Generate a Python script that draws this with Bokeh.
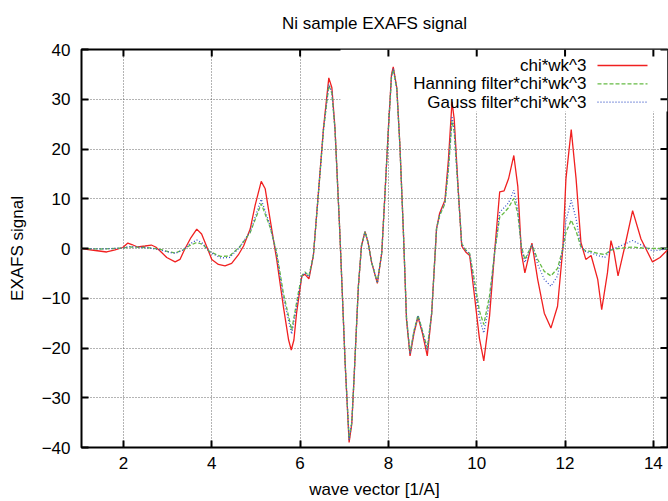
import math
from bokeh.plotting import figure
from bokeh.models import Range1d, FixedTicker, BoxAnnotation, Label, LinearAxis
from bokeh.embed import file_html
from bokeh.resources import INLINE

# ---- data ----
k_chi = [1.05, 1.28, 1.62, 1.81, 1.985, 2.10, 2.19, 2.32, 2.49, 2.63, 2.73, 2.83, 2.98, 3.17,
         3.28, 3.39, 3.53, 3.66, 3.77, 3.88, 4.0, 4.15, 4.30, 4.45, 4.60, 4.72, 4.87, 4.98,
         5.12, 5.21, 5.32, 5.47, 5.62, 5.74, 5.80, 5.86, 5.92, 6.04, 6.11, 6.20, 6.30, 6.41,
         6.53, 6.65, 6.72, 6.79, 6.90, 7.02, 7.11, 7.17, 7.22, 7.32, 7.39, 7.47, 7.54, 7.62,
         7.75, 7.85, 7.92, 8.0, 8.07, 8.11, 8.19, 8.26, 8.34, 8.41, 8.49, 8.58, 8.67, 8.77,
         8.88, 8.98, 9.09, 9.16, 9.28, 9.36, 9.44, 9.49, 9.58, 9.66, 9.75, 9.84, 9.95, 10.06,
         10.16, 10.29, 10.41, 10.52, 10.62, 10.72, 10.84, 10.93, 10.97, 11.01, 11.09, 11.25,
         11.38, 11.53, 11.68, 11.83, 11.95, 12.02, 12.14, 12.25, 12.36, 12.47, 12.59, 12.74,
         12.83, 12.96, 13.04, 13.11, 13.2, 13.34, 13.53, 13.72, 13.98, 14.15, 14.32]
chi = [0.0, -0.3, -0.7, -0.3, 0.2, 1.1, 0.8, 0.3, 0.5, 0.7, 0.3, -0.5, -1.8, -2.7,
       -2.2, -0.1, 2.2, 3.9, 2.9, 0.5, -2.2, -3.2, -3.5, -3.0, -1.3, 0.5, 3.9, 8.6,
       13.5, 12.0, 5.9, -2.2, -11.6, -18.4, -20.4, -18.4, -13.0, -5.5, -5.2, -6.1, -1.5, 10.7,
       24.2, 34.3, 32.3, 24.2, 3.2, -23.0, -39.0, -35.3, -26.5, -7.6, 0.5, 3.4, 1.2, -2.8,
       -7.0, -0.8, 10.7, 24.2, 35.0, 36.5, 32.3, 20.8, 3.2, -14.3, -21.6, -17.0, -13.8, -17.0,
       -21.6, -13.0, 4.0, 7.1, 9.7, 18.0, 29.5, 26.0, 12.0, 0.5, -0.7, -1.4, -9.6, -18.0,
       -22.6, -13.6, -0.1, 11.4, 11.6, 14.0, 18.7, 12.5, 6.0, -0.8, -4.9, 1.1,
       -6.2, -13.0, -16.0, -11.6, 0.0, 14.0, 23.9, 14.0, 1.2, -2.2, -1.4, -6.2,
       -12.3, -4.9, 1.6, -0.8, -5.5, -0.1, 7.6, 1.9, -2.7, -1.8, -0.3]

k_han = [1.05, 1.5, 1.985, 2.15, 2.5, 2.8, 3.0, 3.17, 3.35, 3.5, 3.66, 3.8, 3.95, 4.2, 4.4,
         4.62, 4.87, 5.12, 5.32, 5.47, 5.62, 5.81, 5.96, 6.04, 6.11, 6.20, 6.30, 6.41, 6.53,
         6.65, 6.72, 6.79, 6.90, 7.02, 7.11, 7.17, 7.22, 7.32, 7.39, 7.47, 7.54, 7.62, 7.75,
         7.85, 7.92, 8.0, 8.07, 8.11, 8.19, 8.26, 8.34, 8.41, 8.49, 8.58, 8.67, 8.77, 8.88,
         8.98, 9.09, 9.16, 9.28, 9.36, 9.44, 9.49, 9.58, 9.66, 9.75, 9.84, 9.95, 10.06, 10.16,
         10.29, 10.41, 10.52, 10.62, 10.72, 10.84, 10.93, 11.01, 11.09, 11.25, 11.38, 11.53,
         11.68, 11.83, 11.95, 12.02, 12.14, 12.25, 12.36, 12.47, 12.59, 12.74, 12.9, 13.04,
         13.2, 13.53, 13.75, 14.0, 14.32]
han = [0.0, -0.1, 0.1, 0.3, 0.2, -0.1, -0.6, -0.9, -0.3, 0.6, 1.2, 0.8, -0.6, -1.6, -1.5,
       0.2, 3.2, 9.0, 4.3, -0.8, -8.9, -16.4, -8.9, -5.5, -4.7, -5.5, -1.5, 10.5, 23.8,
       32.8, 31.2, 24.0, 3.2, -23.0, -38.2, -35.0, -26.5, -7.6, 0.5, 3.4, 1.2, -2.8, -6.8,
       -0.8, 10.6, 24.0, 34.5, 36.0, 32.0, 20.6, 3.2, -14.0, -21.0, -16.5, -13.4, -16.5, -20.0,
       -13.0, 4.0, 6.6, 9.0, 16.0, 25.6, 23.5, 11.5, 1.0, -0.3, -1.0, -6.5, -12.5, -15.3,
       -9.5, -0.5, 6.3, 7.2, 8.2, 10.1, 7.0, 0.5, -2.2, 0.7, -2.2, -4.6,
       -5.5, -4.0, 0.0, 3.2, 5.7, 3.5, 0.3, -0.5, -0.6, -1.0, -1.2, -0.3,
       0.0, 0.3, 0.1, 0.0, 0.0]

k_gau = [1.05, 1.5, 1.985, 2.12, 2.5, 2.8, 3.0, 3.17, 3.35, 3.5, 3.66, 3.8, 3.95, 4.2, 4.4,
         4.62, 4.87, 5.12, 5.32, 5.47, 5.62, 5.81, 5.96, 6.04, 6.11, 6.20, 6.30, 6.41, 6.53,
         6.65, 6.72, 6.79, 6.90, 7.02, 7.11, 7.17, 7.22, 7.32, 7.39, 7.47, 7.54, 7.62, 7.75,
         7.85, 7.92, 8.0, 8.07, 8.11, 8.19, 8.26, 8.34, 8.41, 8.49, 8.58, 8.67, 8.77, 8.88,
         8.98, 9.09, 9.16, 9.28, 9.36, 9.44, 9.49, 9.58, 9.66, 9.75, 9.84, 9.95, 10.06, 10.16,
         10.29, 10.41, 10.52, 10.62, 10.72, 10.84, 10.93, 11.01, 11.09, 11.25, 11.38, 11.53,
         11.68, 11.83, 11.95, 12.02, 12.14, 12.25, 12.36, 12.47, 12.59, 12.74, 12.9, 13.04,
         13.2, 13.53, 13.75, 13.98, 14.15, 14.32]
gau = [0.0, -0.1, 0.1, 0.4, 0.2, -0.2, -0.7, -1.0, -0.3, 0.9, 1.7, 1.0, -0.7, -1.9, -1.8,
       0.1, 3.4, 9.9, 4.6, -1.2, -9.8, -17.2, -9.6, -5.5, -4.9, -5.7, -1.5, 10.6, 24.0,
       33.0, 31.5, 24.0, 3.2, -23.0, -38.5, -35.1, -26.5, -7.6, 0.5, 3.4, 1.2, -2.8, -6.9,
       -0.8, 10.6, 24.1, 34.7, 36.2, 32.1, 20.7, 3.2, -14.1, -21.2, -16.7, -13.5, -16.7, -20.5,
       -13.0, 4.0, 6.8, 9.3, 16.5, 26.6, 24.0, 11.8, 0.8, -0.4, -1.1, -7.5, -14.0, -17.0,
       -10.8, -0.4, 7.3, 8.2, 9.2, 11.7, 8.0, 0.2, -2.8, 0.8, -3.2, -6.2,
       -7.6, -5.5, 0.0, 5.5, 9.7, 6.0, 0.5, -0.7, -0.9, -1.4, -1.8, -0.2,
       0.3, 1.6, 0.6, -0.5, -0.3, 0.0]

x_ticks = [2, 4, 6, 8, 10, 12, 14]
y_ticks = [-40, -30, -20, -10, 0, 10, 20, 30, 40]
labels = ["chi*wk^3", "Hanning filter*chi*wk^3", "Gauss filter*chi*wk^3"]
colors = ["#f02020", "#66bb44", "#3a55c8"]
dashes = ["solid", "4 2", "1 2"]
title_text = "Ni sample EXAFS signal"

FONT = "Liberation Sans"
FS = "17px"

p = figure(width=668, height=501, output_backend="svg", toolbar_location=None,
           x_range=Range1d(1.05, 14.32), y_range=Range1d(-40, 40),
           min_border_left=81, min_border_right=1, min_border_top=49, min_border_bottom=54)
p.background_fill_color = "white"
p.border_fill_color = "white"
p.outline_line_color = "black"
p.outline_line_width = 2

def style_axis(ax):
    ax.axis_line_color = None
    ax.major_tick_in = 7
    ax.major_tick_out = 0
    ax.major_tick_line_width = 2
    ax.major_tick_line_color = "black"
    ax.minor_tick_line_color = None
    ax.major_label_text_font = FONT
    ax.major_label_text_color = "black"
    ax.major_label_text_font_size = FS
    ax.axis_label_text_font = FONT
    ax.axis_label_text_font_size = FS
    ax.axis_label_text_font_style = "normal"
    ax.axis_label_text_color = "black"

xb = p.xaxis[0]
xb.ticker = FixedTicker(ticks=x_ticks)
xb.axis_label = "wave vector [1/A]"
style_axis(xb)
xb.major_label_standoff = 9
xb.axis_label_standoff = 8

yl = p.yaxis[0]
yl.ticker = FixedTicker(ticks=y_ticks)
yl.axis_label = "EXAFS signal"
style_axis(yl)
yl.major_label_standoff = 11
yl.axis_label_standoff = 12

# chart title carried by a tick-less top axis (keeps it centred over the frame)
top = LinearAxis(ticker=FixedTicker(ticks=[]), axis_label=title_text)
style_axis(top)
top.major_tick_in = 0
top.axis_label_standoff = 17
p.add_layout(top, "above")

for g, t in ((p.xgrid[0], x_ticks), (p.ygrid[0], y_ticks)):
    g.ticker = FixedTicker(ticks=t)
    g.grid_line_color = "#444444"
    g.grid_line_alpha = 0.8
    g.grid_line_dash = "1 2"
    g.grid_line_width = 1
    g.level = "image"

# opaque key area hides the grid (curves are drawn above it)
key_box = BoxAnnotation(left=259, left_units="screen", bottom=336, bottom_units="screen",
                        fill_color="white", fill_alpha=1.0, line_color=None, level="underlay")
p.add_layout(key_box)

# mirrored inward ticks on the top and right borders
p.ray(x=x_ticks, y=[p.y_range.end] * len(x_ticks), length=7, length_units="screen",
      angle=-math.pi / 2, line_color="black", line_width=2)
p.ray(x=[p.x_range.end] * len(y_ticks), y=y_ticks, length=7, length_units="screen",
      angle=math.pi, line_color="black", line_width=2)

for kx, vy, c, d in ((k_chi, chi, colors[0], dashes[0]), (k_han, han, colors[1], dashes[1]),
                     (k_gau, gau, colors[2], dashes[2])):
    p.line(kx, vy, line_color=c, line_width=1.3, line_dash=d)

# gnuplot-style key: right-aligned text, line sample to its right
# (key drawn in a pixel-based coordinate system of the frame)
p.extra_x_ranges["key_x"] = Range1d(0, 586)
p.extra_y_ranges["key_y"] = Range1d(0, 398)
sample_x = [516, 566]
key_rows = [382, 363.7, 345.3]
for i, txt in enumerate(labels):
    p.line(sample_x, [key_rows[i]] * 2, x_range_name="key_x", y_range_name="key_y",
           line_color=colors[i], line_width=1.3, line_dash=dashes[i])
    p.add_layout(Label(x=505, y=key_rows[i], x_units="screen", y_units="screen", text=txt,
                       text_align="right", text_baseline="middle", text_font=FONT,
                       text_font_size=FS, text_color="black"))

open("out.html", "w").write(file_html(p, INLINE))
